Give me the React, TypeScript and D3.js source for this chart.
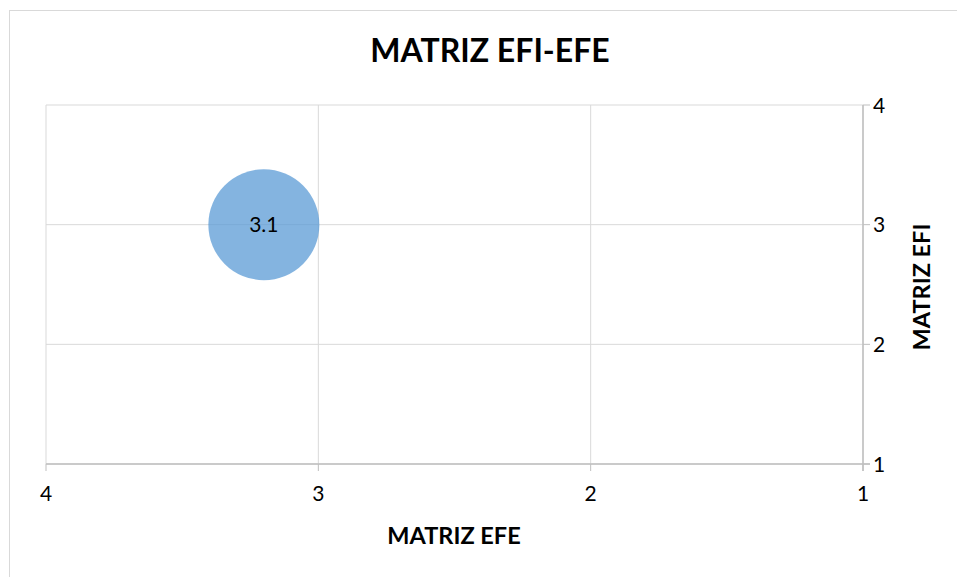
import React from "react";
import * as d3 from "d3";

const xValues = [3.2];
const yValues = [3];
const sizes = [3.1];
const xTicks = [4, 3, 2, 1];
const yTicks = [1, 2, 3, 4];
const title = "MATRIZ EFI-EFE";
const xTitle = "MATRIZ EFE";
const yTitle = "MATRIZ EFI";

const W = 957;
const H = 577;
const FONT = "Lato, 'Open Sans', sans-serif";

export default function App() {
  const left = 46, right = 863, top = 105, bottom = 464;
  const x = d3.scaleLinear().domain([4, 1]).range([left, right]);
  const y = d3.scaleLinear().domain([1, 4]).range([bottom, top]);
  const r = d3.scaleSqrt().domain([0, 3.1]).range([0, 55.5]);
  const grid = "#d9d9d9";
  const axis = "#bfbfbf";
  return (
    <svg width={W} height={H} style={{ position: "absolute", left: 0, top: 0 }}>
      <rect x={0} y={0} width={W} height={H} fill="#fff" />
      <rect x={9.5} y={10.5} width={W + 10} height={H + 10} fill="none" stroke="#d9d9d9" strokeWidth={1} />
      <text x={490} y={61.5} textAnchor="middle" fontFamily={FONT} fontWeight="bold" fontSize={32} fill="#000">{title}</text>
      {xTicks.map((t) => (
        <line key={"gx" + t} x1={x(t)} x2={x(t)} y1={top} y2={bottom} stroke={grid} strokeWidth={1} />
      ))}
      {yTicks.map((t) => (
        <line key={"gy" + t} x1={left} x2={right} y1={y(t)} y2={y(t)} stroke={grid} strokeWidth={1} />
      ))}
      <line x1={left} x2={right + 7} y1={y(1)} y2={y(1)} stroke={axis} strokeWidth={1.5} />
      {xTicks.map((t) => (
        <line key={"tx" + t} x1={x(t)} x2={x(t)} y1={y(1)} y2={y(1) + 7} stroke={axis} strokeWidth={1} />
      ))}
      <line x1={x(1)} x2={x(1)} y1={top} y2={bottom + 7} stroke={axis} strokeWidth={1.5} />
      {yTicks.map((t) => (
        <line key={"ty" + t} x1={x(1)} x2={x(1) + 7} y1={y(t)} y2={y(t)} stroke={axis} strokeWidth={1} />
      ))}
      {xTicks.map((t) => (
        <text key={"lx" + t} x={x(t)} y={500.5} textAnchor="middle" fontFamily={FONT} fontSize={21} fill="#000">{t}</text>
      ))}
      {yTicks.map((t) => (
        <text key={"ly" + t} x={873} y={y(t) + 7.5} textAnchor="start" fontFamily={FONT} fontSize={21} fill="#000">{t}</text>
      ))}
      <text x={454} y={543.5} textAnchor="middle" fontFamily={FONT} fontWeight="bold" fontSize={23.5} fill="#000">{xTitle}</text>
      <text transform={`translate(929.5,287) rotate(-90)`} textAnchor="middle" fontFamily={FONT} fontWeight="bold" fontSize={23.5} fill="#000">{yTitle}</text>
      {xValues.map((v, i) => (
        <g key={"b" + i}>
          <circle cx={x(v)} cy={y(yValues[i])} r={r(sizes[i])} fill="#5b9bd5" fillOpacity={0.75} />
          <text x={x(v)} y={y(yValues[i]) + 7.5} textAnchor="middle" fontFamily={FONT} fontSize={21} fill="#000">{sizes[i]}</text>
        </g>
      ))}
    </svg>
  );
}
